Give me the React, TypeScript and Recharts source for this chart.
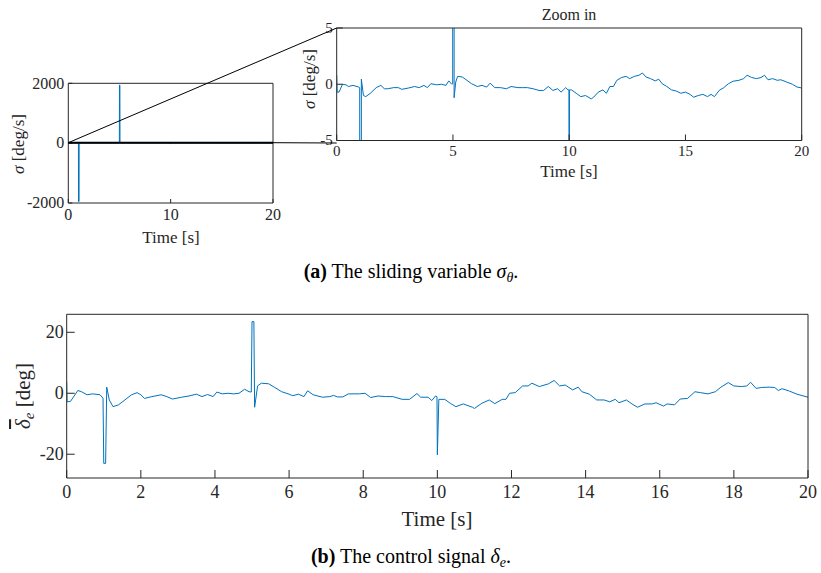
import { LineChart, Line, XAxis, YAxis } from 'recharts'

const AX = '#262626'
const BLUE = '#0072BD'
const SERIF = '"Liberation Serif", "DejaVu Serif", serif'

// sliding variable sigma_theta [deg/s]
const sigmaTime = [
  0, 0.02, 0.1, 0.25, 0.4, 0.5, 0.7, 0.95, 0.99, 1.0, 1.05, 1.06, 1.15, 1.25, 1.45, 1.7, 1.9,
  2.05, 2.2, 2.45, 2.65, 2.8, 3.1, 3.35, 3.55, 3.75, 3.9, 4.05, 4.3, 4.5, 4.7, 4.82, 4.95,
  4.99, 5.0, 5.04, 5.05, 5.12, 5.2, 5.4, 5.6, 5.8, 6.05, 6.25, 6.45, 6.6, 6.8, 7.05, 7.3,
  7.5, 7.8, 8.0, 8.2, 8.45, 8.7, 8.9, 9.1, 9.3, 9.5, 9.65, 9.85, 9.95, 9.99, 10.0, 10.01,
  10.1, 10.3, 10.5, 10.7, 10.95, 11.05, 11.25, 11.45, 11.6, 11.75, 11.9, 12.05, 12.25, 12.45,
  12.6, 12.8, 13.0, 13.15, 13.3, 13.5, 13.7, 13.85, 14.0, 14.2, 14.4, 14.6, 14.8, 15.0, 15.2,
  15.35, 15.55, 15.75, 15.95, 16.1, 16.25, 16.45, 16.65, 16.85, 17.05, 17.3, 17.5, 17.65,
  17.85, 18.05, 18.25, 18.4, 18.55, 18.75, 18.95, 19.1, 19.35, 19.6, 19.8, 20
]
const sigmaValue = [
  0.8, -0.7, -0.7, 0, -0.05, -0.2, -0.1, -0.25, -0.3, -1950, -1950, 0.45, -1, -1.1, -0.8, -0.3, -0.1,
  -0.4, -0.4, -0.3, -0.3, -0.45, -0.33, -0.2, -0.3, -0.1, -0.3, 0.05, -0.05, 0, -0.1, 0.3, 0,
  0.05, 1940, 1940, -1.2, 0.2, 0.7, 0.65, 0.35, 0.05, -0.2, -0.1, -0.25, 0.1, -0.3, -0.3, -0.4,
  -0.2, -0.3, -0.3, -0.3, -0.4, -0.55, -0.55, -0.2, -0.55, -0.4, -0.7, -0.3, -0.5, -0.5, -30, -0.5,
  -0.5, -0.8, -1.1, -1, -1.3, -1.15, -0.7, -0.5, -0.8, -0.2, -0.2, 0.35, 0.6, 0.7,
  0.5, 0.7, 0.8, 1.0, 0.65, 0.5, 0.3, 0.45, 0.05, -0.2, -0.5, -0.6, -0.8, -0.7, -0.9,
  -1.15, -1, -0.9, -1.1, -0.9, -1.1, -0.55, -0.3, 0.05, 0.27, 0.35, 0.5, 0.8,
  0.6, 0.5, 0.6, 0.8, 0.4, 0.5, 0.35, 0.4, 0.2, 0, -0.25, -0.33
]

// control signal delta_e [deg]
const deltaTime = [
  0, 0.01, 0.1, 0.3, 0.4, 0.55, 0.7, 0.9, 0.98, 1.0, 1.05, 1.08, 1.15, 1.25, 1.4, 1.6, 1.75,
  1.9, 2.0, 2.1, 2.3, 2.55, 2.7, 2.85, 3.1, 3.3, 3.5, 3.65, 3.8, 3.95, 4.05, 4.2, 4.35, 4.5,
  4.65, 4.8, 4.92, 4.98, 5.0, 5.05, 5.07, 5.15, 5.25, 5.45, 5.6, 5.8, 6.0, 6.1, 6.25, 6.4,
  6.5, 6.65, 6.9, 7.1, 7.2, 7.3, 7.45, 7.6, 7.9, 8.05, 8.2, 8.4, 8.6, 8.8, 9.05, 9.25, 9.45,
  9.55, 9.75, 9.85, 9.95, 9.99, 10.0, 10.04, 10.2, 10.35, 10.5, 10.7, 10.95, 11.0, 11.2, 11.4,
  11.55, 11.75, 11.85, 11.95, 12.1, 12.3, 12.45, 12.55, 12.75, 13.0, 13.15, 13.3, 13.45, 13.65,
  13.8, 13.9, 14.1, 14.3, 14.5, 14.65, 14.8, 14.9, 15.1, 15.25, 15.4, 15.6, 15.8, 15.9, 16.1,
  16.2, 16.4, 16.55, 16.75, 16.95, 17.1, 17.3, 17.5, 17.65, 17.85, 18.0, 18.2, 18.35, 18.45,
  18.6, 18.75, 18.95, 19.1, 19.2, 19.3, 19.5, 19.7, 20
]
const deltaValue = [
  3.8, -2.8, -2.7, 0.9, 0.5, -0.5, -0.2, -0.5, -1.6, -23, -23, 2, -2.2, -4.4, -3.8, -1.9, -0.5,
  0.2, -0.5, -1.7, -1.1, -0.5, -1.1, -1.9, -1.3, -0.9, -0.3, -1.1, -0.4, -1.1, 0.4, -0.2, 0, -0.2,
  0, 1.3, 0.5, 0.4, 23.5, 23.5, -4.6, 2.4, 3.3, 3.1, 2, 0.5, -0.3, -0.8, -0.3, -1.1,
  0.8, -0.5, -1.3, -1.1, -0.7, -1.2, -1.2, -0.2, -0.2, 0, -1.4, -0.9, -1.1, -1.1, -2, -2, -0.1,
  -1.3, -1.3, -2.4, -0.9, -1.1, -20.2, -2, -2, -3.3, -4.4, -3.5, -4.6, -5, -3.3, -2.2,
  -3.4, -2, -2, 0, 0.2, 2.4, 2.4, 3.3, 2.2, 3.1, 4.2, 2.4, 2.7, 1.1,
  2, 0.5, -0.3, -2.2, -2.2, -2.8, -2, -3.1, -2.2, -3.5, -4.6, -3.5, -3.5, -3.1, -4.2,
  -3.5, -3.8, -1.9, -1.7, 0.5, 0.2, -0.2, 0.5, 2, 3.5, 2.4, 2.2, 2.4, 3.6,
  1.6, 1.9, 2, 1.9, 0.9, 1.5, 0.7, -0.3, -1.3
]

const timeTicksCoarse = [0, 10, 20]
const timeTicksZoom = [0, 5, 10, 15, 20]
const timeTicksFine = [0, 2, 4, 6, 8, 10, 12, 14, 16, 18, 20]
const sigmaTicks = [-2000, 0, 2000]
const sigmaZoomTicks = [-5, 0, 5]
const deltaTicks = [-20, 0, 20]

const sigmaData = sigmaTime.map((t, i) => ({ t, v: sigmaValue[i] }))
const deltaData = deltaTime.map((t, i) => ({ t, v: deltaValue[i] }))

// plain serif tick label (matlab-ish look)
function makeTick(fontSize: number, side: 'x' | 'y') {
  return (p: any) => (
    <text
      x={p.x}
      y={p.y}
      textAnchor={side === 'x' ? 'middle' : 'end'}
      dy={side === 'x' ? '0.71em' : '0.33em'}
      fontSize={fontSize}
      fontFamily={SERIF}
      fill={AX}>
      {p.payload.value}
    </text>
  )
}

interface PanelProps {
  data: { t: number; v: number }[]
  left: number
  top: number
  width: number
  height: number
  margin: { top: number; right: number; bottom: number; left: number }
  xTicks: number[]
  yTicks: number[]
  yDomain: [number, number]
  tickLen: number
  fontSize: number
  yAxisWidth: number
  xAxisHeight: number
  yGap: number
  xGap: number
}

function Panel({
  data, left, top, width, height, margin, xTicks, yTicks, yDomain,
  tickLen, fontSize, yAxisWidth, xAxisHeight, yGap, xGap
}: PanelProps) {
  return (
    <div style={{ position: 'absolute', left, top }}>
      <LineChart width={width} height={height} data={data}
        margin={{ ...margin, top: margin.top - 1, right: margin.right - 1 }}>
        <XAxis xAxisId="b" dataKey="t" type="number" domain={[0, 20]} ticks={xTicks}
          interval={0} height={xAxisHeight} tickSize={-tickLen} tickMargin={tickLen + xGap}
          stroke={AX} tick={makeTick(fontSize, 'x')} allowDataOverflow />
        <XAxis xAxisId="t" orientation="top" type="number" domain={[0, 20]} ticks={xTicks}
          interval={0} height={1} tickSize={-tickLen} tick={false} stroke={AX} allowDataOverflow />
        <YAxis yAxisId="l" type="number" domain={yDomain} ticks={yTicks} interval={0}
          width={yAxisWidth} tickSize={-tickLen} tickMargin={tickLen + yGap}
          stroke={AX} tick={makeTick(fontSize, 'y')} allowDataOverflow />
        <YAxis yAxisId="r" orientation="right" type="number" domain={yDomain} ticks={yTicks}
          interval={0} width={1} tickSize={-tickLen} tick={false} stroke={AX} allowDataOverflow />
        <Line xAxisId="b" yAxisId="l" type="linear" dataKey="v" stroke={BLUE} strokeWidth={1}
          dot={false} isAnimationActive={false} />
      </LineChart>
    </div>
  )
}

export default function App() {
  return (
    <div style={{ position: 'relative', width: 821, height: 573, background: '#fff', overflow: 'hidden', fontFamily: SERIF }}>
      <style>{'body{margin:0}'}</style>

      {/* full-range sigma */}
      <Panel data={sigmaData} left={0} top={60} width={290} height={190}
        margin={{ top: 23.3, right: 17, bottom: 17, left: 8.3 }}
        xTicks={timeTicksCoarse} yTicks={sigmaTicks} yDomain={[-2000, 2000]}
        tickLen={4} fontSize={16} yAxisWidth={60} xAxisHeight={30} yGap={4} xGap={6} />

      {/* zoom in */}
      <Panel data={sigmaData} left={290} top={0} width={531} height={190}
        margin={{ top: 28, right: 19.3, bottom: 19.5, left: 6.7 }}
        xTicks={timeTicksZoom} yTicks={sigmaZoomTicks} yDomain={[-5, 5]}
        tickLen={6} fontSize={15} yAxisWidth={40} xAxisHeight={30} yGap={4} xGap={5} />

      {/* control signal */}
      <Panel data={deltaData} left={0} top={290} width={821} height={240}
        margin={{ top: 24.3, right: 13, bottom: 12, left: 6.7 }}
        xTicks={timeTicksFine} yTicks={deltaTicks} yDomain={[-27.8, 25.9]}
        tickLen={8} fontSize={18} yAxisWidth={60} xAxisHeight={40} yGap={3} xGap={7} />

      <svg width={821} height={573} style={{ position: 'absolute', left: 0, top: 0, pointerEvents: 'none' }}
        fontFamily={SERIF} fill={AX}>
        {/* zoom box and connectors */}
        <line x1={68.3} y1={142.7} x2={273} y2={142.7} stroke="#000" strokeWidth={2} />
        <line x1={68.3} y1={142.7} x2={336.7} y2={28} stroke="#000" strokeWidth={1} />
        <line x1={273} y1={142.7} x2={336.7} y2={143} stroke="#000" strokeWidth={1} />

        <text x={171} y={243} fontSize={17} textAnchor="middle">Time [s]</text>
        <text x={24} y={144} fontSize={17} textAnchor="middle" transform="rotate(-90 24 144)">
          <tspan fontStyle="italic">σ</tspan> [deg/s]
        </text>

        <text x={569} y={20} fontSize={16} textAnchor="middle">Zoom in</text>
        <text x={569} y={177} fontSize={17} textAnchor="middle">Time [s]</text>
        <text x={315} y={79} fontSize={17} textAnchor="middle" transform="rotate(-90 315 79)">
          <tspan fontStyle="italic">σ</tspan> [deg/s]
        </text>

        <text x={437} y={526} fontSize={21} textAnchor="middle">Time [s]</text>
        <text x={30} y={396} fontSize={21} textAnchor="middle" transform="rotate(-90 30 396)">
          <tspan fontStyle="italic" style={{ textDecoration: 'overline' }}>δ</tspan>
          <tspan fontStyle="italic" fontSize={15} dy={4}>e</tspan>
          <tspan dy={-4}> [deg]</tspan>
        </text>

        <text x={411} y={278} fontSize={20} textAnchor="middle" fill="#000">
          <tspan fontWeight="bold">(a)</tspan> The sliding variable{' '}
          <tspan fontStyle="italic">σ</tspan>
          <tspan fontStyle="italic" fontSize={14} dy={4}>θ</tspan>
          <tspan dy={-4}>.</tspan>
        </text>
        <text x={411} y={563} fontSize={20} textAnchor="middle" fill="#000">
          <tspan fontWeight="bold">(b)</tspan> The control signal{' '}
          <tspan fontStyle="italic">δ</tspan>
          <tspan fontStyle="italic" fontSize={14} dy={4}>e</tspan>
          <tspan dy={-4}>.</tspan>
        </text>
      </svg>
    </div>
  )
}
